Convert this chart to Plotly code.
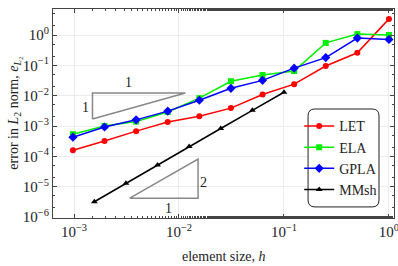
import math
import plotly.graph_objects as go

# element sizes
h = [9.765625e-4, 1.953125e-3, 3.90625e-3, 7.8125e-3, 1.5625e-2, 3.125e-2,
     6.25e-2, 0.125, 0.25, 0.5, 1.0]
LET = [1.6e-4, 3.2e-4, 6.8e-4, 1.35e-3, 2.1e-3, 3.9e-3, 1.1e-2, 2.4e-2, 9.5e-2, 0.26, 3.4]
ELA = [5.4e-4, 1.0e-3, 1.4e-3, 2.9e-3, 8.3e-3, 3.0e-2, 4.8e-2, 6.5e-2, 0.55, 1.07, 1.0]
GPLA = [4.3e-4, 9.3e-4, 1.6e-3, 3.1e-3, 7.1e-3, 1.75e-2, 3.2e-2, 8.1e-2, 0.18, 0.79, 0.71]

h_mm = [1.5625e-3, 3.125e-3, 6.25e-3, 1.25e-2, 2.5e-2, 5e-2, 0.1]
MMsh = [3.2e-6, 1.3e-5, 5.2e-5, 2.1e-4, 8.3e-4, 3.3e-3, 1.3e-2]

# tick values and labels
x_tickvals = [1e-3, 1e-2, 1e-1, 1e0]
x_ticktext = ["10<sup>−3</sup>", "10<sup>−2</sup>", "10<sup>−1</sup>", "10<sup>0</sup>"]
y_tickvals = [1e-6, 1e-5, 1e-4, 1e-3, 1e-2, 1e-1, 1e0]
y_ticktext = ["10<sup>−6</sup>", "10<sup>−5</sup>", "10<sup>−4</sup>", "10<sup>−3</sup>",
              "10<sup>−2</sup>", "10<sup>−1</sup>", "10<sup>0</sup>"]

# slope triangles (vertices, closed)
tri1_x = [1.5e-3, 1.5e-3, 1.15e-2, 1.5e-3]
tri1_y = [1.7e-3, 1.23e-2, 1.23e-2, 1.7e-3]
tri2_x = [3.4e-3, 1.52e-2, 1.52e-2, 3.4e-3]
tri2_y = [4.2e-6, 4.2e-6, 8.2e-5, 4.2e-6]

# slope labels
lab_text = ["1", "1", "2", "1"]
lab_x = [3.27e-3, 1.3e-3, 1.73e-2, 8.0e-3]
lab_y = [2.8e-2, 4.2e-3, 1.42e-5, 1.98e-6]

FONT = "Liberation Serif"
TXT = "#222222"

fig = go.Figure()
series = [
    ("LET", h, LET, "#ff0000", "circle", 6),
    ("ELA", h, ELA, "#00ee00", "square", 6),
    ("GPLA", h, GPLA, "#0000ff", "diamond", 7),
    ("MMsh", h_mm, MMsh, "#000000", "triangle-up", 6),
]
for name, xs, ys, col, sym, sz in series:
    fig.add_trace(go.Scatter(x=xs, y=ys, name=name, mode="lines+markers",
                             line=dict(color=col, width=1.5),
                             marker=dict(color=col, symbol=sym, size=sz)))

for tx, ty in [(tri1_x, tri1_y), (tri2_x, tri2_y)]:
    fig.add_trace(go.Scatter(x=tx, y=ty, mode="lines", showlegend=False,
                             line=dict(color="#888888", width=1.5), hoverinfo="skip"))

for t, x, y in zip(lab_text, lab_x, lab_y):
    fig.add_annotation(x=math.log10(x), y=math.log10(y), text=t, showarrow=False,
                       font=dict(family=FONT, size=14, color=TXT))

axis_common = dict(
    type="log", showline=True, linecolor="#444444", linewidth=1, mirror="allticks",
    ticks="inside", ticklen=4, tickcolor="#444444",
    showgrid=True, gridcolor="#ececec", gridwidth=1, automargin=False,
    ticklabeloverflow="allow",
    zeroline=False, tickfont=dict(family=FONT, size=15, color=TXT),
    minor=dict(ticks="inside", ticklen=2, tickcolor="#444444", showgrid=False),
)

fig.update_xaxes(**axis_common, range=[-3.2, 0.048],
                 tickvals=x_tickvals, ticktext=x_ticktext)
fig.update_yaxes(**axis_common, range=[-6.03, 0.857],
                 tickvals=y_tickvals, ticktext=y_ticktext)

# axis titles
fig.add_annotation(x=0.5, y=-0.182, xref="paper", yref="paper", xanchor="center",
                   yanchor="middle", showarrow=False, text="element size, <i>h</i>",
                   font=dict(family=FONT, size=14, color=TXT))
fig.add_annotation(x=-0.114, y=0.5, xref="paper", yref="paper", showarrow=False,
                   xanchor="center", yanchor="middle",
                   text="error in <i>L</i><sub>2</sub> norm, <i>e</i><sub><i>L</i>₂</sub>",
                   textangle=-90, font=dict(family=FONT, size=14, color=TXT))

# rounded legend box
x0, x1, y0, y1, r = 0.748, 0.956, 0.053, 0.5215, 0.02
ry = r * 341 / 209
path = (f"M {x0+r},{y1} L {x1-r},{y1} Q {x1},{y1} {x1},{y1-ry} "
        f"L {x1},{y0+ry} Q {x1},{y0} {x1-r},{y0} L {x0+r},{y0} "
        f"Q {x0},{y0} {x0},{y0+ry} L {x0},{y1-ry} Q {x0},{y1} {x0+r},{y1} Z")
fig.add_shape(type="path", path=path, xref="paper", yref="paper",
              line=dict(color="#222222", width=1), fillcolor="white", layer="above")

fig.update_layout(
    width=398, height=266,
    margin=dict(l=53, r=4, t=9, b=48),
    plot_bgcolor="white", paper_bgcolor="white",
    font=dict(family=FONT, color=TXT),
    legend=dict(x=0.722, y=0.515, xanchor="left", yanchor="top",
                bgcolor="rgba(0,0,0,0)", borderwidth=0,
                font=dict(family=FONT, size=14), itemwidth=30, tracegroupgap=0),
)

fig.write_html("out.html", config={"displayModeBar": False},
               post_script="document.body.style.margin='0px';document.body.style.overflow='hidden';")
